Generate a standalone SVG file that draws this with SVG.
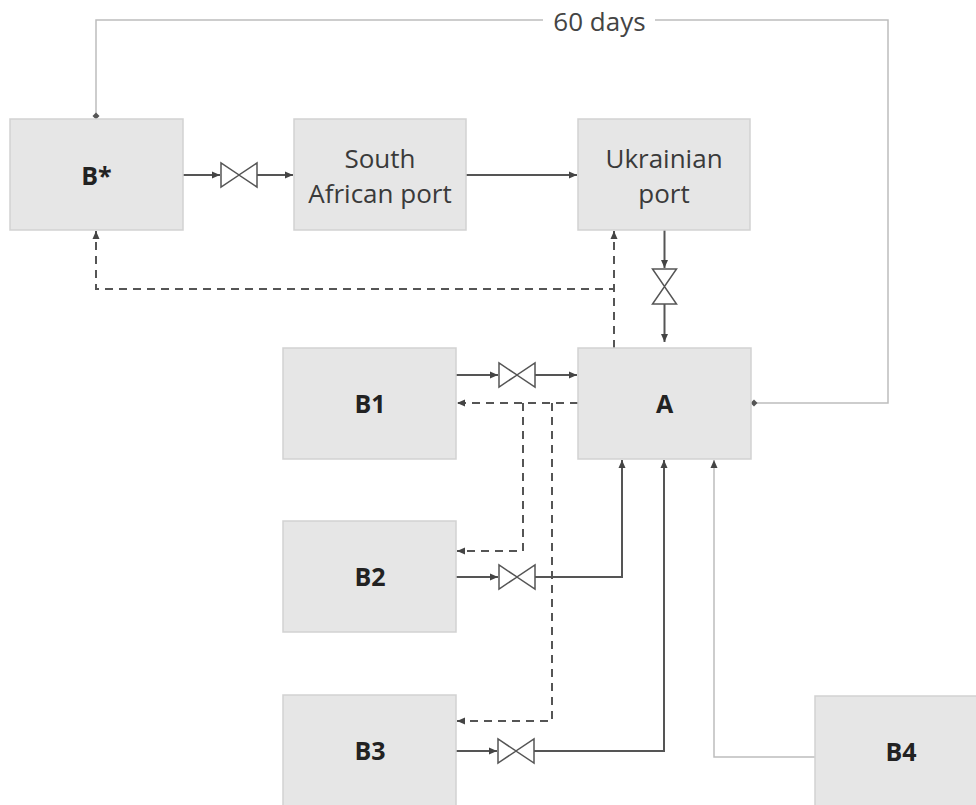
<svg xmlns="http://www.w3.org/2000/svg" width="976" height="805" viewBox="0 0 976 805">
  <style>
    .box { fill: #e6e6e6; stroke: #d2d2d2; stroke-width: 1.5; }
    .lbl { font-family: "Open Sans", "Noto Sans", "Liberation Sans", sans-serif; font-size: 26px; fill: #3a3a3a; text-anchor: middle; }
    .bold { font-weight: bold; fill: #222; font-size: 25px; }
    .ln { fill: none; stroke: #555; stroke-width: 2; }
    .dash { fill: none; stroke: #555; stroke-width: 2; stroke-dasharray: 8 6; }
    .gray { fill: none; stroke: #bdbdbd; stroke-width: 1.5; }
    .valve { fill: #fff; stroke: #555; stroke-width: 1.5; stroke-linejoin: miter; }
  </style>
  <defs>
    <marker id="arr" markerUnits="userSpaceOnUse" markerWidth="9" markerHeight="8" refX="8" refY="4" orient="auto">
      <path d="M0,0.5 L8,4 L0,7.5 z" fill="#444"/>
    </marker>
    <marker id="dot" markerUnits="userSpaceOnUse" markerWidth="8" markerHeight="8" refX="4" refY="4" orient="auto">
      <path d="M0.5,4 L4,0.5 L7.5,4 L4,7.5 z" fill="#555"/>
    </marker>
  </defs>

  <g id="connectors">
    <!-- 60 days loop -->
    <path class="gray" d="M96,116 V20 H888 V403 H754" marker-start="url(#dot)" marker-end="url(#dot)"/>
    <rect x="543" y="8" width="112" height="26" fill="#fff"/>
    <text class="lbl" x="599.5" y="31" style="fill:#444">60 days</text>

    <!-- B* -> valve -> South African port -->
    <path class="ln" d="M183,175 H220" marker-end="url(#arr)"/>
    <path class="valve" d="M221,163 V187 L239,175 Z M257,163 V187 L239,175 Z"/>
    <path class="ln" d="M257,175 H293" marker-end="url(#arr)"/>

    <!-- South African -> Ukrainian -->
    <path class="ln" d="M466,175 H577" marker-end="url(#arr)"/>

    <!-- Ukrainian -> valve -> A -->
    <path class="ln" d="M664.5,230 V268" marker-end="url(#arr)"/>
    <path class="valve" d="M652.5,269 H676.5 L664.5,286.5 Z M652.5,304 H676.5 L664.5,286.5 Z"/>
    <path class="ln" d="M664.5,304 V342" marker-end="url(#arr)"/>

    <!-- dashed from A to Ukrainian and B* -->
    <path class="dash" d="M614,348 V231" marker-end="url(#arr)"/>
    <path class="dash" d="M614,348 V289 H96 V231" marker-end="url(#arr)"/>

    <!-- B1 -> valve -> A -->
    <path class="ln" d="M456,375 H498" marker-end="url(#arr)"/>
    <path class="valve" d="M499,363 V387 L517,375 Z M535,363 V387 L517,375 Z"/>
    <path class="ln" d="M535,375 H577" marker-end="url(#arr)"/>

    <!-- dashed A -> B1, B2, B3 -->
    <path class="dash" d="M578,403 H457" marker-end="url(#arr)"/>
    <path class="dash" d="M523,403 V551 H457" marker-end="url(#arr)"/>
    <path class="dash" d="M552,403 V721 H457" marker-end="url(#arr)"/>

    <!-- B2 -> valve -> A -->
    <path class="ln" d="M456,577 H498" marker-end="url(#arr)"/>
    <path class="valve" d="M499,565 V589 L517,577 Z M535,565 V589 L517,577 Z"/>
    <path class="ln" d="M535,577 H622 V460" marker-end="url(#arr)"/>

    <!-- B3 -> valve -> A -->
    <path class="ln" d="M456,751 H497" marker-end="url(#arr)"/>
    <path class="valve" d="M498,739 V763 L516,751 Z M534,739 V763 L516,751 Z"/>
    <path class="ln" d="M534,751 H664 V460" marker-end="url(#arr)"/>

    <!-- B4 -> A -->
    <path class="gray" d="M815,757 H714 V460" marker-end="url(#arr)"/>
  </g>

  <g id="node-bstar">
    <rect class="box" x="10" y="119" width="173" height="111"/>
    <text class="lbl bold" x="96.5" y="184.5">B*</text>
  </g>
  <g id="node-sa">
    <rect class="box" x="294" y="119" width="172" height="111"/>
    <text class="lbl" x="380" y="167.5">South</text>
    <text class="lbl" x="380" y="202.5">African port</text>
  </g>
  <g id="node-ukr">
    <rect class="box" x="578" y="119" width="172" height="111"/>
    <text class="lbl" x="664" y="167.5">Ukrainian</text>
    <text class="lbl" x="664" y="202.5">port</text>
  </g>
  <g id="node-b1">
    <rect class="box" x="283" y="348" width="173" height="111"/>
    <text class="lbl bold" x="370" y="413">B1</text>
  </g>
  <g id="node-a">
    <rect class="box" x="578" y="348" width="173" height="111"/>
    <text class="lbl bold" x="664.5" y="413">A</text>
  </g>
  <g id="node-b2">
    <rect class="box" x="283" y="521" width="173" height="111"/>
    <text class="lbl bold" x="370" y="586">B2</text>
  </g>
  <g id="node-b3">
    <rect class="box" x="283" y="695" width="173" height="112"/>
    <text class="lbl bold" x="370" y="760">B3</text>
  </g>
  <g id="node-b4">
    <rect class="box" x="815" y="696" width="173" height="112"/>
    <text class="lbl bold" x="901" y="761">B4</text>
  </g>
</svg>
